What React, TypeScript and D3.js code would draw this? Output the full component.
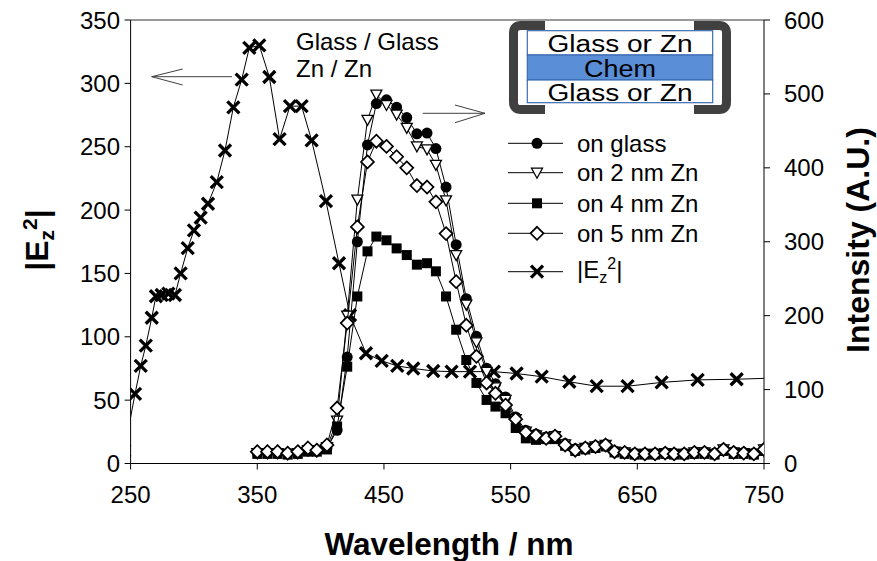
import React from 'react';
import * as d3 from 'd3';

// ---------- data ----------
const xTicks = [250, 350, 450, 550, 650, 750];
const yLeftTicks = [0, 50, 100, 150, 200, 250, 300, 350];
const yRightTicks = [0, 100, 200, 300, 400, 500, 600];

// |Ez^2| (left axis)
const wlEz = [245, 253.5, 258, 262, 266.7, 270, 274.5, 279.8, 285, 289.5, 295.1, 300, 305.3, 311.1, 318, 324.5, 331.1, 337.7, 343.7, 351.6, 359.5, 367.6, 375.8, 385, 392.9, 404.2, 414.5, 423.2, 435.8, 448.2, 460.5, 473.1, 488.9, 503.4, 517.9, 536.8, 554.7, 574.5, 596.3, 617.9, 642.3, 669.2, 697.6, 728.4, 760];
const ez = [10, 55, 77, 93, 115, 132, 133, 134, 133, 150, 170, 184, 194, 205, 222, 247, 281, 303, 328, 330, 305, 256, 282, 282, 255, 207, 158, 117, 87, 81, 77, 75, 73, 72.5, 72.5, 72.5, 71, 68.5, 64.5, 61, 61, 64, 66, 66.5, 67.5];

// Intensity (right axis)
const wlInt = [350, 358, 366, 374, 382, 390, 397, 405, 413, 421, 429, 437, 444, 452, 460, 468, 476, 484, 491, 499, 507, 515, 523, 531, 538, 546, 554, 562, 570, 578, 585, 593, 601, 609, 617, 625, 632, 640, 648, 656, 664, 672, 679, 687, 695, 703, 711, 718, 726, 734, 742, 750];
const onGlass = [15, 15, 14, 14, 15, 17, 17, 21, 45, 144, 300, 431, 487, 492, 482, 468, 446, 447, 426, 374, 296, 223, 172, 129, 108, 90, 63, 45, 40, 36, 38, 27, 20, 22, 24, 26, 17, 16, 14, 14, 14, 15, 14, 14, 16, 16, 14, 20, 16, 15, 14, 20];
const on2nm = [14, 14, 14, 13, 14, 18, 17, 22, 58, 200, 357, 465, 499, 485, 472, 454, 429, 425, 404, 356, 282, 215, 164, 124, 103, 86, 60, 43, 38, 35, 37, 26, 19, 21, 23, 25, 16, 15, 13, 13, 13, 14, 13, 13, 15, 15, 13, 19, 15, 14, 13, 19];
const on4nm = [13, 13, 13, 12, 13, 16, 16, 19, 50, 131, 226, 287, 307, 302, 291, 282, 269, 271, 260, 226, 181, 140, 109, 86, 77, 68, 48, 34, 32, 33, 33, 24, 17, 19, 21, 23, 15, 13, 12, 12, 12, 13, 12, 12, 13, 13, 12, 17, 13, 13, 12, 17];
const on5nm = [16, 16, 16, 14, 16, 21, 18, 25, 75, 190, 320, 408, 436, 429, 415, 400, 376, 374, 354, 311, 246, 187, 145, 109, 95, 79, 60, 42, 38, 34, 37, 25, 18, 21, 23, 25, 16, 15, 13, 13, 13, 14, 13, 13, 15, 15, 13, 19, 15, 14, 13, 19];

const legendLabels = ['on glass', 'on 2 nm Zn', 'on 4 nm Zn', 'on 5 nm Zn'];

// ---------- layout ----------
const W = 877, H = 561;
const L = 130.6, R = 764, T = 20, B = 463.5;
const FONT = '"Liberation Sans", Arial, sans-serif';

type MK = 'circle' | 'tri' | 'square' | 'diamond' | 'x';

function Marker({ kind, cx, cy }: { kind: MK; cx: number; cy: number }) {
  if (kind === 'circle') return <circle cx={cx} cy={cy} r={5.5} fill="#000" />;
  if (kind === 'square') return <rect x={cx - 5} y={cy - 5} width={10} height={10} fill="#000" />;
  if (kind === 'tri')
    return <path d={`M${cx - 5.5},${cy - 4.5} L${cx + 5.5},${cy - 4.5} L${cx},${cy + 5.5} Z`} fill="#fff" stroke="#000" strokeWidth={1.3} />;
  if (kind === 'diamond')
    return <path d={`M${cx},${cy - 6.5} L${cx + 6.5},${cy} L${cx},${cy + 6.5} L${cx - 6.5},${cy} Z`} fill="#fff" stroke="#000" strokeWidth={1.7} />;
  const s = 6;
  return (
    <path d={`M${cx - s},${cy - s} L${cx + s},${cy + s} M${cx - s},${cy + s} L${cx + s},${cy - s}`} stroke="#000" strokeWidth={3.3} fill="none" />
  );
}

export default function App() {
  const x = d3.scaleLinear().domain([250, 750]).range([L, R]);
  const yL = d3.scaleLinear().domain([0, 350]).range([B, T]);
  const yR = d3.scaleLinear().domain([0, 600]).range([B, T]);

  const ezPts: [number, number][] = wlEz.map((w, i) => [x(w), yL(ez[i])]);
  const lineGen = d3.line<[number, number]>().x(d => d[0]).y(d => d[1]);

  const intSeries: { vals: number[]; kind: MK }[] = [
    { vals: onGlass, kind: 'circle' },
    { vals: on2nm, kind: 'tri' },
    { vals: on4nm, kind: 'square' },
    { vals: on5nm, kind: 'diamond' },
  ];

  const legendRows = [143.3, 172.7, 203.3, 233.3, 271.7];
  const legendKinds: MK[] = ['circle', 'tri', 'square', 'diamond', 'x'];

  return (
    <svg width={W} height={H} style={{ position: 'absolute', left: 0, top: 0, background: '#fff' }} fontFamily={FONT}>
      <defs>
        <clipPath id="plotClip">
          <rect x={L} y={T - 8} width={R - L} height={B - T + 8} />
        </clipPath>
      </defs>
      <rect x={0} y={0} width={W} height={H} fill="#fff" />

      {/* frame / axes */}
      <line x1={L} y1={T} x2={R} y2={T} stroke="#333" strokeWidth={1} />
      <line x1={L} y1={T} x2={L} y2={B} stroke="#000" strokeWidth={1} />
      <line x1={R} y1={T} x2={R} y2={B} stroke="#000" strokeWidth={1} />
      <line x1={L} y1={B} x2={R} y2={B} stroke="#000" strokeWidth={1} />

      {xTicks.map(t => (
        <g key={'xt' + t}>
          <line x1={x(t)} y1={B} x2={x(t)} y2={B + 6} stroke="#000" />
          <text x={x(t)} y={502.5} fontSize={24} textAnchor="middle">{t}</text>
        </g>
      ))}
      {yLeftTicks.map(t => (
        <g key={'yl' + t}>
          <line x1={L - 6} y1={yL(t)} x2={L} y2={yL(t)} stroke="#000" />
          <text x={120} y={yL(t) + 8.5} fontSize={24} textAnchor="end">{t}</text>
        </g>
      ))}
      {yRightTicks.map(t => (
        <g key={'yr' + t}>
          <line x1={R} y1={yR(t)} x2={R + 6} y2={yR(t)} stroke="#000" />
          <text x={784} y={yR(t) + 8.5} fontSize={24} textAnchor="start">{t}</text>
        </g>
      ))}

      {/* axis titles */}
      <text x={449} y={555} fontSize={31.5} fontWeight="bold" textAnchor="middle">Wavelength / nm</text>
      <g transform="translate(48,240) rotate(-90)">
        <text x={0} y={0} fontSize={32} fontWeight="bold" textAnchor="middle">
          |E<tspan fontSize={21} dy={6}>z</tspan><tspan fontSize={21} dy={-17}>2</tspan><tspan fontSize={32} dy={11}>|</tspan>
        </text>
      </g>
      <g transform="translate(869,240) rotate(-90)">
        <text x={0} y={0} fontSize={32} fontWeight="bold" textAnchor="middle">Intensity (A.U.)</text>
      </g>

      {/* data */}
      <g clipPath="url(#plotClip)">
        <path d={lineGen(ezPts) || ''} fill="none" stroke="#000" strokeWidth={1} />
        {ezPts.map((p, i) => <Marker key={'ez' + i} kind="x" cx={p[0]} cy={p[1]} />)}
        {intSeries.map((s, si) => {
          const pts: [number, number][] = wlInt.map((w, i) => [x(w), yR(s.vals[i])]);
          return (
            <g key={'s' + si}>
              <path d={lineGen(pts) || ''} fill="none" stroke="#000" strokeWidth={1} />
              {pts.map((p, i) => <Marker key={i} kind={s.kind} cx={p[0]} cy={p[1]} />)}
            </g>
          );
        })}
      </g>

      {/* annotations */}
      <text x={296} y={50} fontSize={24}>Glass / Glass</text>
      <text x={296} y={77.3} fontSize={24}>Zn / Zn</text>
      <path d="M151.7,76.7 L232,76.7 M182.7,69 L151.7,76.7 L182.7,85" fill="none" stroke="#404040" strokeWidth={1} />
      <path d="M422.7,113.3 L485,113.3 M455,105 L485,113.3 L455,122.7" fill="none" stroke="#404040" strokeWidth={1} />

      {/* inset */}
      <g>
        <rect x={527.3} y={30.7} width={185.4} height={24.3} fill="#fff" stroke="#3a6bb0" strokeWidth={1.2} />
        <rect x={527.3} y={55} width={185.4} height={25} fill="#5a8ed6" stroke="#3a6bb0" strokeWidth={1.2} />
        <rect x={527.3} y={80} width={185.4} height={22.7} fill="#fff" stroke="#3a6bb0" strokeWidth={1.2} />
        <text x={620} y={51.5} fontSize={23} textAnchor="middle" textLength={145} lengthAdjust="spacingAndGlyphs">Glass or Zn</text>
        <text x={620} y={76.5} fontSize={23} textAnchor="middle" textLength={72} lengthAdjust="spacingAndGlyphs">Chem</text>
        <text x={620} y={100.5} fontSize={23} textAnchor="middle" textLength={145} lengthAdjust="spacingAndGlyphs">Glass or Zn</text>
        <path d="M545,25.5 L521,25.5 Q513.5,25.5 513.5,33 L513.5,102 Q513.5,109.5 521,109.5 L545,109.5" fill="none" stroke="#404040" strokeWidth={9} />
        <path d="M694,25.5 L719,25.5 Q726.5,25.5 726.5,33 L726.5,102 Q726.5,109.5 719,109.5 L694,109.5" fill="none" stroke="#404040" strokeWidth={9} />
      </g>

      {/* legend */}
      {legendRows.map((ry, i) => (
        <g key={'lg' + i}>
          <line x1={508} y1={ry} x2={563} y2={ry} stroke="#000" strokeWidth={1} />
          <Marker kind={legendKinds[i]} cx={537} cy={ry} />
          {i < 4 ? (
            <text x={577} y={ry + 8.5} fontSize={24}>{legendLabels[i]}</text>
          ) : (
            <text x={577} y={ry + 6} fontSize={24}>
              |E<tspan fontSize={16} dy={5}>z</tspan><tspan fontSize={16} dy={-14}>2</tspan><tspan fontSize={24} dy={9}>|</tspan>
            </text>
          )}
        </g>
      ))}
    </svg>
  );
}
